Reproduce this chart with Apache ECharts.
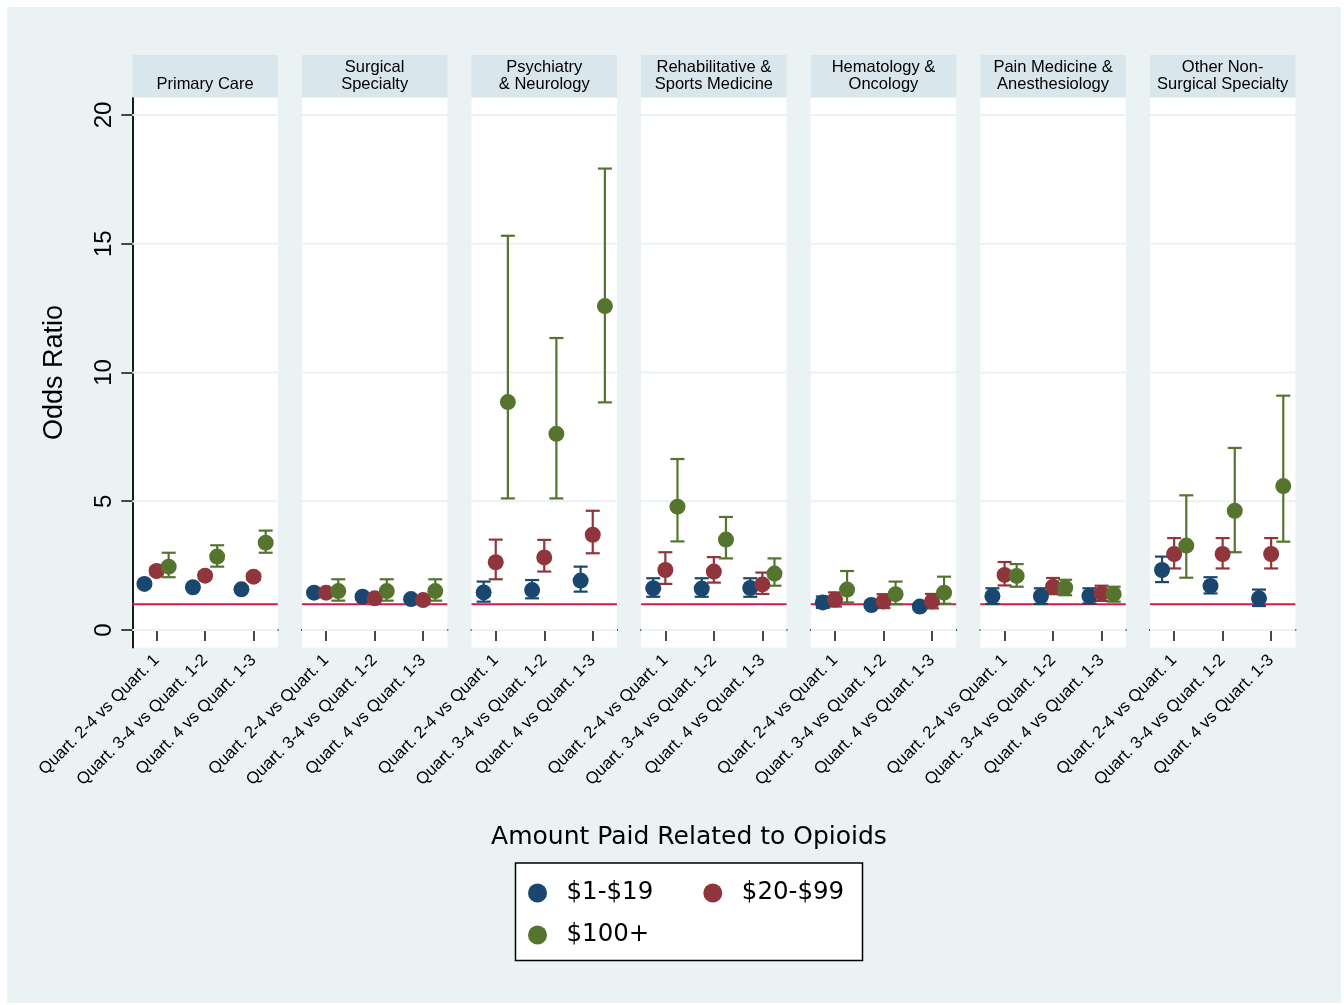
<!DOCTYPE html>
<html>
<head>
<meta charset="utf-8">
<style>
  html, body { margin: 0; padding: 0; background: #ffffff; }
  #chart { width: 1344px; height: 1005px; }
</style>
<script src="https://cdn.jsdelivr.net/npm/echarts@6/dist/echarts.min.js"></script>
</head>
<body>
<div id="chart"></div>
<script>
// Specialty panels and the three quartile contrasts shown in each
const panels = [
  'Primary Care',
  'Surgical\nSpecialty',
  'Psychiatry\n& Neurology',
  'Rehabilitative &\nSports Medicine',
  'Hematology &\nOncology',
  'Pain Medicine &\nAnesthesiology',
  'Other Non-\nSurgical Specialty'
];
const contrasts = ['Quart. 2-4 vs Quart. 1', 'Quart. 3-4 vs Quart. 1-2', 'Quart. 4 vs Quart. 1-3'];
const groups = ['$1-$19', '$20-$99', '$100+'];
const yTicks = [0, 5, 10, 15, 20];
const refValue = 1;

// Odds ratios with 95% CI, one row per panel, one column per contrast
const est_1_19 = [
  [1.79, 1.66, 1.58], [1.45, 1.29, 1.20], [1.46, 1.55, 1.92], [1.62, 1.61, 1.63],
  [1.07, 0.97, 0.91], [1.31, 1.31, 1.32], [2.33, 1.71, 1.23]
];
const lo_1_19 = [
  [1.70, 1.58, 1.50], [1.36, 1.20, 1.12], [1.10, 1.23, 1.49], [1.29, 1.29, 1.29],
  [0.86, 0.86, 0.81], [1.01, 1.01, 1.03], [1.86, 1.42, 0.93]
];
const hi_1_19 = [
  [1.88, 1.75, 1.67], [1.55, 1.38, 1.29], [1.88, 1.94, 2.46], [2.01, 2.01, 2.01],
  [1.30, 1.10, 1.03], [1.62, 1.62, 1.62], [2.85, 2.05, 1.57]
];

const est_20_99 = [
  [2.29, 2.11, 2.07], [1.45, 1.23, 1.16], [2.63, 2.82, 3.70], [2.33, 2.27, 1.77],
  [1.18, 1.11, 1.11], [2.14, 1.68, 1.42], [2.95, 2.95, 2.95]
];
const lo_20_99 = [
  [2.15, 1.98, 1.94], [1.33, 1.12, 1.05], [1.97, 2.27, 2.98], [1.79, 1.84, 1.40],
  [0.91, 0.85, 0.84], [1.73, 1.39, 1.13], [2.39, 2.39, 2.39]
];
const hi_20_99 = [
  [2.43, 2.25, 2.20], [1.58, 1.35, 1.28], [3.51, 3.50, 4.63], [3.02, 2.83, 2.23],
  [1.46, 1.39, 1.40], [2.64, 2.02, 1.72], [3.57, 3.57, 3.57]
];

const est_100 = [
  [2.46, 2.85, 3.39], [1.51, 1.51, 1.51], [8.85, 7.62, 12.58], [4.79, 3.51, 2.19],
  [1.57, 1.39, 1.45], [2.10, 1.64, 1.39], [3.28, 4.63, 5.59]
];
const lo_100 = [
  [2.05, 2.46, 3.00], [1.14, 1.14, 1.14], [5.11, 5.11, 8.84], [3.44, 2.78, 1.72],
  [1.07, 1.00, 1.02], [1.68, 1.35, 1.10], [2.03, 3.02, 3.43]
];
const hi_100 = [
  [3.00, 3.29, 3.86], [1.97, 1.97, 1.97], [15.31, 11.34, 17.92], [6.64, 4.39, 2.78],
  [2.29, 1.88, 2.07], [2.56, 1.95, 1.68], [5.23, 7.07, 9.10]
];

// ---- styling / layout ----
const colors = ['#1a476f', '#90353b', '#55752f'];
const offsets = [-0.25, 0, 0.25];
const sets = [
  { est: est_1_19, lo: lo_1_19, hi: hi_1_19 },
  { est: est_20_99, lo: lo_20_99, hi: hi_20_99 },
  { est: est_100, lo: lo_100, hi: hi_100 }
];
const BG = '#eaf2f3';
const STRIP = '#d9e6eb';
const REF_RED = '#d21a4b';
const AXIS_DARK = '#1a1a1a';
const P_LEFT0 = 132.3, P_STEP = 169.6, P_W = 145.5, P_TOP = 97.5, P_H = 550;
const Y_MIN = -0.68, Y_MAX = 20.68;
const panelLeft = i => P_LEFT0 + i * P_STEP;

const grid = [], xAxis = [], yAxis = [], series = [];
const graphicEls = [
  { type: 'rect', z: -10, silent: true, shape: { x: 7, y: 7, width: 1334, height: 996 }, style: { fill: BG } }
];

panels.forEach((name, i) => {
  grid.push({
    left: panelLeft(i), top: P_TOP, width: P_W, height: P_H,
    show: true, backgroundColor: '#ffffff', borderWidth: 0
  });
  xAxis.push({
    gridIndex: i, type: 'value', min: 0.5, max: 3.5,
    axisLine: { show: true, lineStyle: { color: AXIS_DARK, width: 2 } },
    axisTick: { show: true, customValues: [1, 2, 3], length: 11, lineStyle: { color: AXIS_DARK, width: 1.6 } },
    axisLabel: {
      show: true, customValues: [1, 2, 3], rotate: 45, margin: 10,
      formatter: v => contrasts[Math.round(v) - 1],
      fontFamily: 'Liberation Sans', fontSize: 16.8, color: '#000'
    },
    splitLine: { show: false }
  });
  const first = i === 0;
  yAxis.push({
    gridIndex: i, type: 'value', min: Y_MIN, max: Y_MAX,
    name: first ? 'Odds Ratio' : '',
    nameLocation: 'middle', nameGap: 64,
    nameTextStyle: { fontFamily: 'Liberation Sans', fontSize: 27, color: '#000' },
    axisLine: { show: first, lineStyle: { color: AXIS_DARK, width: 2 } },
    axisTick: { show: first, customValues: yTicks, length: 11, lineStyle: { color: AXIS_DARK, width: 1.6 } },
    axisLabel: {
      show: first, customValues: yTicks, rotate: 90, margin: 16,
      fontFamily: 'Liberation Sans', fontSize: 24, color: '#000'
    },
    splitLine: { show: false }
  });

  // horizontal grid lines at the tick values
  series.push({
    type: 'custom', xAxisIndex: i, yAxisIndex: i, silent: true,
    data: yTicks.map(v => [v]),
    encode: { y: 0 },
    renderItem: (params, api) => {
      const cs = params.coordSys;
      const y = api.coord([1, api.value(0)])[1];
      return { type: 'line', shape: { x1: cs.x, y1: y, x2: cs.x + cs.width, y2: y }, style: { stroke: BG, lineWidth: 2 } };
    }
  });
  // reference line at odds ratio = 1
  series.push({
    type: 'custom', xAxisIndex: i, yAxisIndex: i, silent: true,
    data: [[refValue]],
    encode: { y: 0 },
    renderItem: (params, api) => {
      const cs = params.coordSys;
      const y = api.coord([1, api.value(0)])[1];
      return { type: 'line', shape: { x1: cs.x, y1: y, x2: cs.x + cs.width, y2: y }, style: { stroke: REF_RED, lineWidth: 2.2 } };
    }
  });

  sets.forEach((s, g) => {
    const color = colors[g];
    // confidence interval whiskers
    series.push({
      type: 'custom', xAxisIndex: i, yAxisIndex: i, silent: true,
      data: contrasts.map((c, k) => [k + 1 + offsets[g], s.lo[i][k], s.hi[i][k]]),
      encode: { x: 0, y: [1, 2] },
      renderItem: (params, api) => {
        const x = api.value(0);
        const a = api.coord([x, api.value(1)]);
        const b = api.coord([x, api.value(2)]);
        const cap = 7;
        const st = { stroke: color, lineWidth: 2.2 };
        return {
          type: 'group', children: [
            { type: 'line', shape: { x1: a[0], y1: a[1], x2: b[0], y2: b[1] }, style: st },
            { type: 'line', shape: { x1: a[0] - cap, y1: a[1], x2: a[0] + cap, y2: a[1] }, style: st },
            { type: 'line', shape: { x1: b[0] - cap, y1: b[1], x2: b[0] + cap, y2: b[1] }, style: st }
          ]
        };
      }
    });
    // point estimates
    series.push({
      type: 'scatter', name: groups[g], xAxisIndex: i, yAxisIndex: i,
      symbol: 'circle', symbolSize: 16,
      itemStyle: { color: color, opacity: 1 },
      data: contrasts.map((c, k) => [k + 1 + offsets[g], s.est[i][k]])
    });
  });

  // panel header strip
  graphicEls.push({
    type: 'rect', z: 1, silent: true,
    shape: { x: panelLeft(i), y: 55, width: P_W, height: P_TOP - 55 },
    style: { fill: STRIP }
  });
  graphicEls.push({
    type: 'text', z: 2, silent: true,
    x: panelLeft(i) + P_W / 2, y: 92.5,
    style: {
      text: name, textAlign: 'center', textVerticalAlign: 'bottom',
      font: '16.5px "Liberation Sans"', lineHeight: 17, fill: '#000'
    }
  });
});

// legend frame
graphicEls.push({
  type: 'rect', z: 1, silent: true,
  shape: { x: 515.5, y: 863, width: 347, height: 97.5 },
  style: { fill: '#ffffff', stroke: '#000', lineWidth: 1.5 }
});

const legendText = { fontFamily: 'DejaVu Sans', fontSize: 24.5, color: '#000' };
const legendAt = (name, left, top) => ({
  data: [name], left: left, top: top, padding: 0,
  icon: 'circle', itemWidth: 48, itemHeight: 19,
  selectedMode: false, textStyle: legendText
});

const option = {
  backgroundColor: '#ffffff',
  animation: false,
  title: {
    text: 'Amount Paid Related to Opioids',
    left: 689, top: 825, padding: 0, textAlign: 'center',
    textStyle: { fontFamily: 'DejaVu Sans', fontSize: 25, fontWeight: 'normal', color: '#000' }
  },
  legend: [
    legendAt(groups[0], 528, 880.5),
    legendAt(groups[1], 703.3, 880.5),
    legendAt(groups[2], 528, 922.5)
  ],
  graphic: { elements: graphicEls },
  grid, xAxis, yAxis, series
};

const chart = echarts.init(document.getElementById('chart'), null, { renderer: 'canvas' });
chart.setOption(option);
</script>
</body>
</html>
